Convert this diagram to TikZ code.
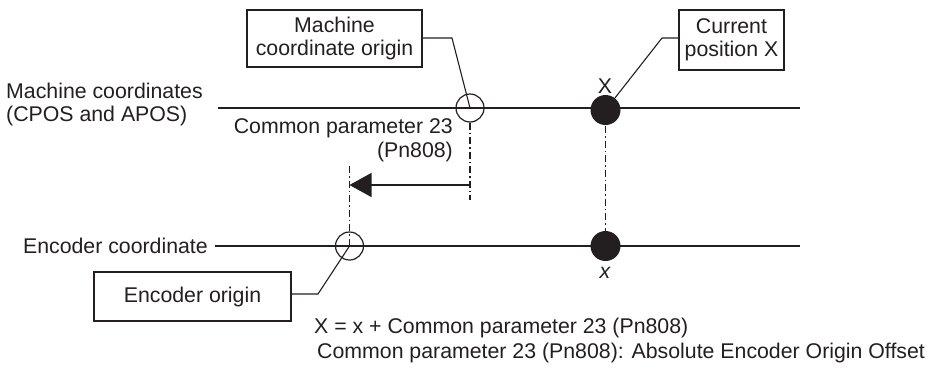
\documentclass[tikz,border=0pt]{standalone}
\usepackage{fontspec}
\setmainfont{Liberation Sans}
\usetikzlibrary{arrows.meta}
\definecolor{ink}{HTML}{231F20}
\begin{document}
\begin{tikzpicture}[x=1pt,y=-1pt,
  every node/.style={text=ink,font=\fontsize{21.3}{23.5}\selectfont,inner sep=0pt},
  axis/.style={draw=ink,line width=1.2pt},
  callout/.style={draw=ink,line width=1.2pt,fill=white,align=center},
  leader/.style={draw=ink,line width=1.1pt},
  origin/.style={circle,draw=ink,line width=1.2pt,minimum size=28pt},
  dot/.style={circle,fill=ink,minimum size=30pt},
  guide/.style={draw=ink,line width=1.1pt,dash pattern=on 7pt off 3pt on 1.5pt off 3pt}]
  \useasboundingbox (0,0) rectangle (929,378);

  % axis labels
  \node[anchor=west,align=left] (mlab) at (6,104.5) {Machine coordinates\\(CPOS and APOS)};
  \node[anchor=east] (elab) at (208,246) {Encoder coordinate};

  % axes
  \coordinate (m0) at (218,108);
  \coordinate (m1) at (800,108);
  \coordinate (e0) at (215,246);
  \coordinate (e1) at (800,246);
  \draw[axis] (m0) -- (m1);
  \draw[axis] (e0) -- (e1);

  % origins and positions
  \node[origin] (morig) at (470,108) {};
  \node[origin] (eorig) at (349.5,246) {};
  \node[dot] (cpos) at (605.5,110) {};
  \node[dot] (epos) at (605.5,246) {};
  \node (Xlab) at (605,86) {X};
  \node (xlab) at (605,273) {\itshape x};

  % guide lines
  \coordinate (g1) at (470,200);
  \coordinate (a1) at (470,185);
  \coordinate (a0) at (349.5,185);
  \coordinate (g2) at (349.5,166);
  \coordinate (g3) at (605.5,126);
  \coordinate (g4) at (605.5,231);
  \draw[guide] (morig.south) -- (g1);
  \draw[guide] (g2) -- (eorig.center);
  \draw[guide] (g3) -- (g4);

  % offset arrow
  \draw[draw=ink,line width=1.2pt,-{Triangle[length=22pt,width=24pt]}] (a1) -- (a0);
  \node[anchor=east,align=right] (plab) at (453,140.5) {Common parameter 23\\(Pn808)};

  % callouts
  \node[callout,minimum width=175pt,minimum height=57pt] (cbox) at (334.5,38.5) {Machine\\coordinate origin};
  \node[callout,minimum width=105pt,minimum height=60pt] (pbox) at (731.5,40) {Current\\position X};
  \node[callout,minimum width=197pt,minimum height=49pt] (ebox) at (192.5,296.5) {Encoder origin};
  \coordinate (cb) at (452,38);
  \coordinate (pb) at (662,38);
  \coordinate (eb) at (318,294);
  \draw[leader] (cbox.east |- cb) -- (cb) -- (morig.center);
  \draw[leader] (pbox.west |- pb) -- (pb) -- (cpos);
  \draw[leader] (ebox.east |- eb) -- (eb) -- (eorig.center);

  % formula
  \node[anchor=west] (f1) at (314,328) {X = x + Common parameter 23 (Pn808)};
  \node[anchor=west] (f2) at (317,353) {Common parameter 23 (Pn808): Absolute Encoder Origin Offset};
\end{tikzpicture}
\end{document}
